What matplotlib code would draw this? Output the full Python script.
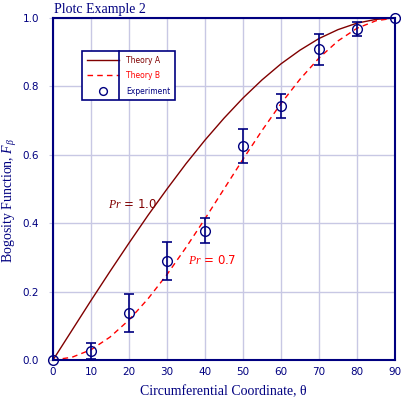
import numpy as np
import matplotlib
matplotlib.use('Agg')
import matplotlib.pyplot as plt
from matplotlib.lines import Line2D

plt.rcParams['mathtext.fontset'] = 'custom'
plt.rcParams['mathtext.rm'] = 'Liberation Serif'
plt.rcParams['mathtext.it'] = 'Liberation Serif:italic'

# theory curves, every 5 degrees
theta = [0, 5, 10, 15, 20, 25, 30, 35, 40, 45, 50, 55, 60, 65, 70, 75, 80, 85, 90]
theory_a = [0.0, 0.087, 0.174, 0.259, 0.342, 0.423, 0.5, 0.574, 0.643, 0.707,
            0.766, 0.819, 0.866, 0.906, 0.940, 0.966, 0.985, 0.996, 1.0]
theory_b = [0.0, 0.008, 0.030, 0.067, 0.117, 0.179, 0.25, 0.329, 0.413, 0.5,
            0.587, 0.671, 0.75, 0.821, 0.883, 0.933, 0.970, 0.992, 1.0]

# experiment
exp_theta = [0, 10, 20, 30, 40, 50, 60, 70, 80, 90]
exp_val = [0.0, 0.027, 0.138, 0.290, 0.378, 0.626, 0.743, 0.908, 0.967, 1.0]
exp_err = [0.0, 0.024, 0.055, 0.056, 0.036, 0.05, 0.036, 0.045, 0.02, 0.0]

xticks = [0, 10, 20, 30, 40, 50, 60, 70, 80, 90]
yticks = [0.0, 0.2, 0.4, 0.6, 0.8, 1.0]

navy = '#000080'
dred = '#800000'
red = '#ff0000'
gridc = '#c8c8e4'
serif = 'Liberation Serif'

fig = plt.figure(figsize=(4.01, 4.01), dpi=100)
ax = fig.add_axes([53 / 401, 41 / 401, 342 / 401, 342 / 401])

ax.plot(theta, theory_a, color=dred, lw=1.0, label='Theory A')
ax.plot(theta, theory_b, color=red, lw=1.0, ls=(0, (4, 3)), label='Theory B')
ax.errorbar(exp_theta, exp_val, yerr=exp_err, fmt='none', ecolor=navy,
            elinewidth=1.2, capsize=3.5, capthick=1.2, zorder=5)
ax.plot(exp_theta, exp_val, 'o', mfc='none', mec=navy, ms=7, mew=1.0,
        clip_on=False, zorder=6, label='Experiment')

ax.set_xlim(0, 90)
ax.set_ylim(0, 1)
ax.set_xticks(xticks)
ax.set_yticks(yticks)
ax.set_yticklabels(['%.1f' % v for v in yticks])
ax.grid(True, color=gridc, lw=1.0)
ax.set_axisbelow(True)
ax.tick_params(axis='x', length=0, pad=5, labelsize=7.5, labelcolor=navy)
ax.tick_params(axis='y', length=3, color=gridc, pad=7, labelsize=7.5, labelcolor=navy)
for s in ax.spines.values():
    s.set_color(navy)
    s.set_linewidth(1.5)

ax.set_xlabel('Circumferential Coordinate, θ', family=serif, fontsize=10,
              color=navy, va='center')
ax.xaxis.set_label_coords((223 - 53) / 342, (360 - 392) / 342)
ax.set_ylabel('Bogosity Function, $\\it{F}_{\\beta}$', family=serif, fontsize=10,
              color=navy, va='center')
ax.yaxis.set_label_coords((10 - 53) / 342, (360 - 200) / 342)
fig.text(54 / 401, 1 - 9 / 401, 'Plotc Example 2', family=serif, fontsize=10,
         color=navy, va='center', ha='left')

ax.text(14.5, 0.455, '$\\it{Pr}$ = 1.0', color=dred, fontsize=8.5, va='center')
ax.text(35.5, 0.29, '$\\it{Pr}$ = 0.7', color=red, fontsize=8.5, va='center')

leg = ax.legend(loc='upper left', bbox_to_anchor=((82 - 53) / 342, (360 - 51) / 342),
                borderaxespad=0, fontsize=5.5, handlelength=4.2, handletextpad=1.0,
                labelspacing=0.85, borderpad=0.6, fancybox=False, framealpha=1,
                edgecolor=navy, markerscale=0.8)
leg.get_frame().set_linewidth(1.2)
for t, c in zip(leg.get_texts(), [dred, red, navy]):
    t.set_color(c)
ax.add_line(Line2D([(119 - 53) / 342] * 2, [(360 - 51) / 342, (360 - 99) / 342],
                   transform=ax.transAxes, color=navy, lw=1.2, zorder=10))

fig.savefig('out.png', dpi=100)
